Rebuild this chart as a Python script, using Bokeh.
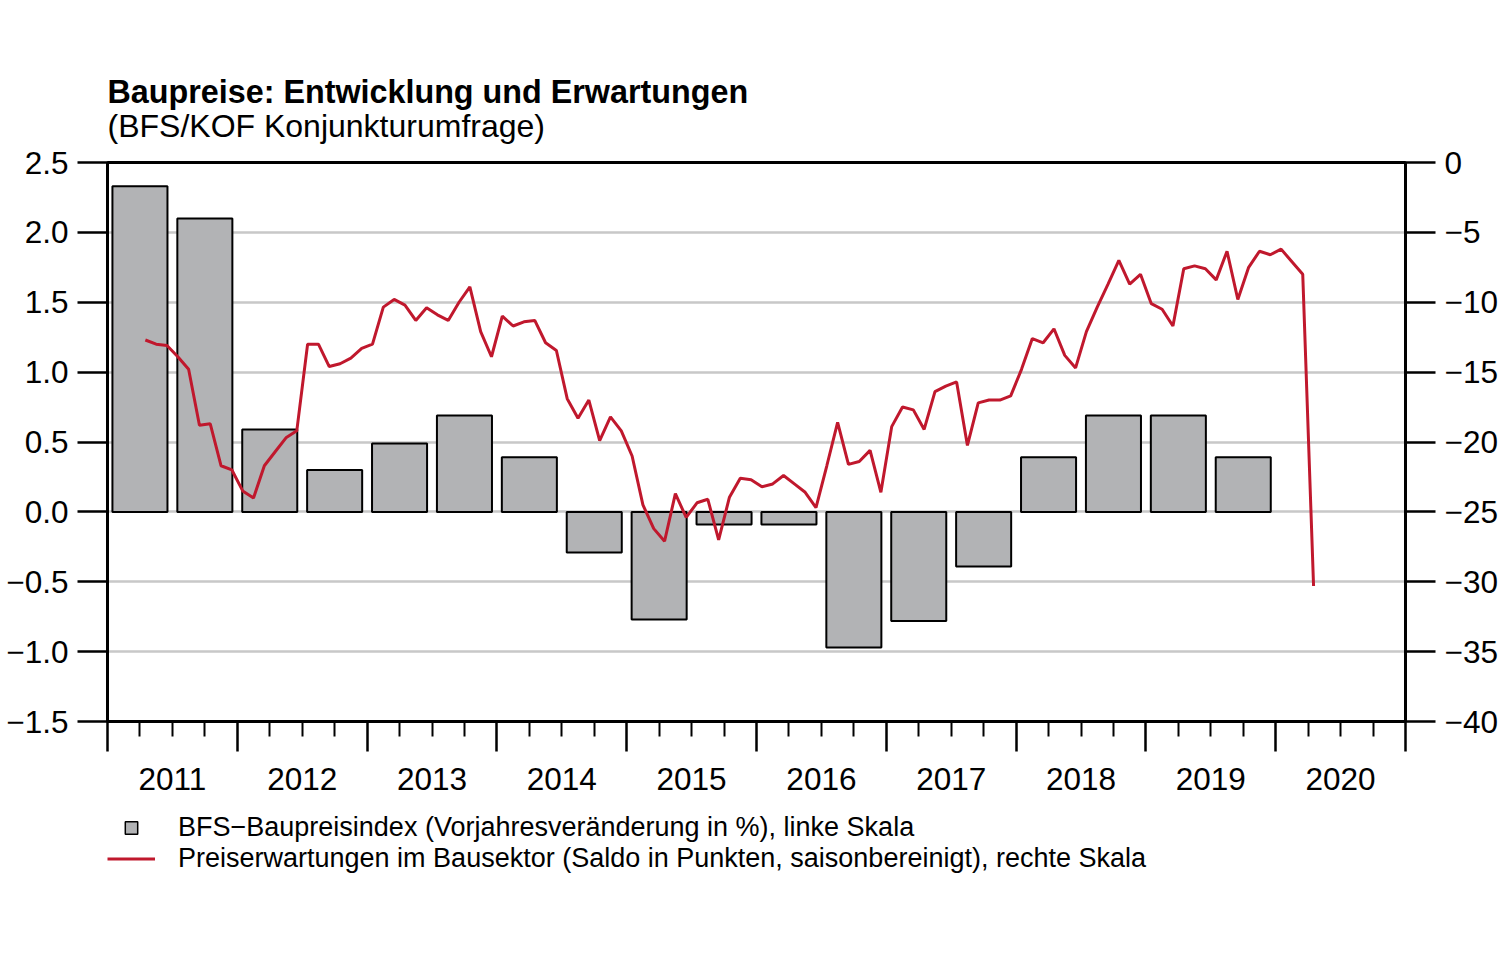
import pandas as pd
from bokeh.plotting import figure
from bokeh.layouts import column
from bokeh.models import (Range1d, LinearAxis, FixedTicker, CustomJSTickFormatter,
                          Label, Legend, LegendItem, ColumnDataSource)
from bokeh.embed import file_html
from bokeh.resources import INLINE

# ---------------- data ----------------
bar_years = [2011, 2011, 2012, 2012, 2013, 2013, 2014, 2014, 2015, 2015,
             2016, 2016, 2017, 2017, 2018, 2018, 2019, 2019]
bar_halves = [1, 2] * 9
bfs_index = [2.33, 2.10, 0.59, 0.30, 0.49, 0.69, 0.39, -0.29, -0.77, -0.09,
             -0.09, -0.97, -0.78, -0.39, 0.39, 0.69, 0.69, 0.39]

line_start = "2011-04"
price_expect = [
    -12.7, -13.0, -13.1, -13.9, -14.8, -18.8, -18.7, -21.7, -22.0, -23.5,
    -24.0, -21.7, -20.7, -19.7, -19.2, -13.0, -13.0, -14.6, -14.4, -14.0,
    -13.3, -13.0, -10.35, -9.8, -10.2, -11.3, -10.4, -10.9, -11.3, -10.0,
    -8.9, -12.1, -13.9, -11.0, -11.7, -11.4, -11.3, -12.9, -13.45, -16.9,
    -18.3, -17.0, -19.9, -18.2, -19.2, -21.0, -24.5, -26.2, -27.1, -23.7,
    -25.4, -24.35, -24.1, -27.0, -23.95, -22.6, -22.7, -23.2, -23.0, -22.4,
    -23.0, -23.6, -24.7, -21.7, -18.6, -21.6, -21.4, -20.6, -23.6, -18.9,
    -17.5, -17.7, -19.1, -16.4, -16.0, -15.7, -20.25, -17.2, -17.0, -17.0,
    -16.7, -14.8, -12.6, -12.9, -11.9, -13.8, -14.7, -12.1, -10.35, -8.7,
    -7.0, -8.7, -8.0, -10.1, -10.5, -11.7, -7.6, -7.4, -7.6, -8.4,
    -6.35, -9.8, -7.5, -6.35, -6.6, -6.2, -7.1, -8.0, -30.3,
]

year_labels = list(range(2011, 2021))
left_ticks = [-1.5, -1.0, -0.5, 0.0, 0.5, 1.0, 1.5, 2.0, 2.5]
right_ticks = [-40, -35, -30, -25, -20, -15, -10, -5, 0]

title_text = "Baupreise: Entwicklung und Erwartungen"
subtitle_text = "(BFS/KOF Konjunkturumfrage)"
legend_bar = "BFS\u2212Baupreisindex (Vorjahresver\u00e4nderung in %), linke Skala"
legend_line = "Preiserwartungen im Bausektor (Saldo in Punkten, saisonbereinigt), rechte Skala"

# ---------------- derived ----------------
bar_x = [y + 0.25 + 0.5 * (h - 1) for y, h in zip(bar_years, bar_halves)]
bars = ColumnDataSource(dict(x=bar_x, top=bfs_index))
periods = pd.period_range(line_start, periods=len(price_expect), freq="M")
line_x = [p.year + (p.month - 0.5) / 12 for p in periods]
lines = ColumnDataSource(dict(x=line_x, y=price_expect))

FONT = "Liberation Sans"
GRAY = "#b2b3b5"
RED = "#c0182d"
W = 1510
HEAD = 144          # header strip (title + subtitle)
MAIN = 812 - HEAD   # chart strip
LEG = 954 - 812
FRAME_L, FRAME_R = 107, 1405
TICK_FS = "31.5px"

# ---------------- header strip ----------------
# x: 0..1 spans the (column-aligned) frame, y: pixels from the top of the strip
head = figure(width=W, height=HEAD, output_backend="svg", toolbar_location=None,
              x_range=Range1d(0, 1), y_range=Range1d(HEAD, 0),
              x_axis_type=None, y_axis_type=None, title=None,
              min_border_left=FRAME_L, min_border_right=W - FRAME_R,
              min_border_top=0, min_border_bottom=0)
head.outline_line_color = None
head.grid.visible = False
head.add_layout(Label(x=0, y=91, text=title_text, text_font=FONT,
                      text_font_size="32.3px", text_font_style="bold",
                      text_color="black", text_align="left", text_baseline="middle"))
head.add_layout(Label(x=0, y=125, text=subtitle_text, text_font=FONT,
                      text_font_size="32px", text_font_style="normal",
                      text_color="black", text_align="left", text_baseline="middle"))

# ---------------- chart strip ----------------
main = figure(width=W, height=MAIN, output_backend="svg", toolbar_location=None,
              x_range=Range1d(2011, 2021), y_range=Range1d(-1.5, 2.5),
              min_border_left=FRAME_L, min_border_right=W - FRAME_R,
              min_border_top=162 - HEAD, min_border_bottom=91, title=None)
main.extra_y_ranges = {"right": Range1d(-40, 0)}
main.outline_line_color = "black"
main.outline_line_width = 3
main.outline_line_alpha = 1
main.background_fill_color = "white"
main.border_fill_color = "white"

main.xgrid.visible = False
main.ygrid.ticker = FixedTicker(ticks=left_ticks)
main.ygrid.grid_line_color = "#c8c8c8"
main.ygrid.grid_line_width = 2.5

main.vbar(x="x", top="top", bottom=0, width=0.424, source=bars,
          fill_color=GRAY, line_color="black", line_width=2)
main.line(x="x", y="y", source=lines, y_range_name="right",
          line_color=RED, line_width=3)


def style_y(ax):
    ax.major_tick_in = 0
    ax.major_tick_out = 30
    ax.minor_tick_out = 0
    ax.minor_tick_in = 0
    ax.major_tick_line_width = 2.5
    ax.axis_line_width = 3
    ax.major_label_text_font = FONT
    ax.major_label_text_font_size = TICK_FS
    ax.major_label_text_color = "black"
    ax.major_label_standoff = 9


ya = main.yaxis[0]
ya.ticker = FixedTicker(ticks=left_ticks, minor_ticks=[])
ya.formatter = CustomJSTickFormatter(code="return tick < 0 ? '\u2212' + (-tick).toFixed(1) : tick.toFixed(1);")
style_y(ya)

ra = LinearAxis(y_range_name="right",
                ticker=FixedTicker(ticks=right_ticks, minor_ticks=[]),
                formatter=CustomJSTickFormatter(code="return tick < 0 ? '\u2212' + (-tick).toFixed(0) : tick.toFixed(0);"))
style_y(ra)
main.add_layout(ra, "right")

# x axis: tick marks only (years long, quarters short)
xa = main.xaxis[0]
xa.ticker = FixedTicker(ticks=[float(y) for y in range(2011, 2022)],
                        minor_ticks=[y + q / 4 for y in range(2011, 2021) for q in range(1, 4)])
xa.formatter = CustomJSTickFormatter(code="return '';")
xa.major_label_text_font_size = "1px"
xa.major_label_standoff = 0
xa.major_tick_in = 0
xa.major_tick_out = 30
xa.minor_tick_in = 0
xa.minor_tick_out = 15
xa.major_tick_line_width = 2.5
xa.minor_tick_line_width = 2
xa.axis_line_width = 3

# x axis: year labels centred in each year
xl = LinearAxis(ticker=FixedTicker(ticks=[y + 0.5 for y in year_labels], minor_ticks=[]),
                formatter=CustomJSTickFormatter(code="return Math.floor(tick).toString();"))
xl.axis_line_color = None
xl.major_tick_line_color = None
xl.minor_tick_line_color = None
xl.major_tick_in = 0
xl.major_tick_out = 0
xl.major_label_text_font = FONT
xl.major_label_text_font_size = TICK_FS
xl.major_label_text_color = "black"
xl.major_label_standoff = 16
main.add_layout(xl, "below")

# ---------------- legend strip ----------------
leg = figure(width=W, height=LEG, output_backend="svg", toolbar_location=None,
             x_range=Range1d(0, 1), y_range=Range1d(0, 1),
             x_axis_type=None, y_axis_type=None, title=None,
             min_border_left=FRAME_L, min_border_right=W - FRAME_R,
             min_border_top=0, min_border_bottom=0)
leg.outline_line_color = None
leg.grid.visible = False
# legend symbols: the series drawn outside this strip's (0..1) ranges
sym_bar = leg.scatter(x="x", y="top", source=bars, marker="square", size=14,
                      fill_color=GRAY, line_color="black", line_width=1.5)
sym_line = leg.line(x="x", y="y", source=lines, line_color=RED, line_width=3)

legend = Legend(items=[LegendItem(label=legend_bar, renderers=[sym_bar]),
                       LegendItem(label=legend_line, renderers=[sym_line])],
                location="top_left", orientation="vertical",
                glyph_width=48, glyph_height=31, label_standoff=23, spacing=0,
                padding=0, margin=0, border_line_color=None,
                background_fill_alpha=0,
                label_text_font=FONT, label_text_font_size="27px",
                label_text_color="black")
leg.add_layout(legend, "center")

p = column(head, main, leg, spacing=0)

open("out.html", "w").write(file_html(p, INLINE))
